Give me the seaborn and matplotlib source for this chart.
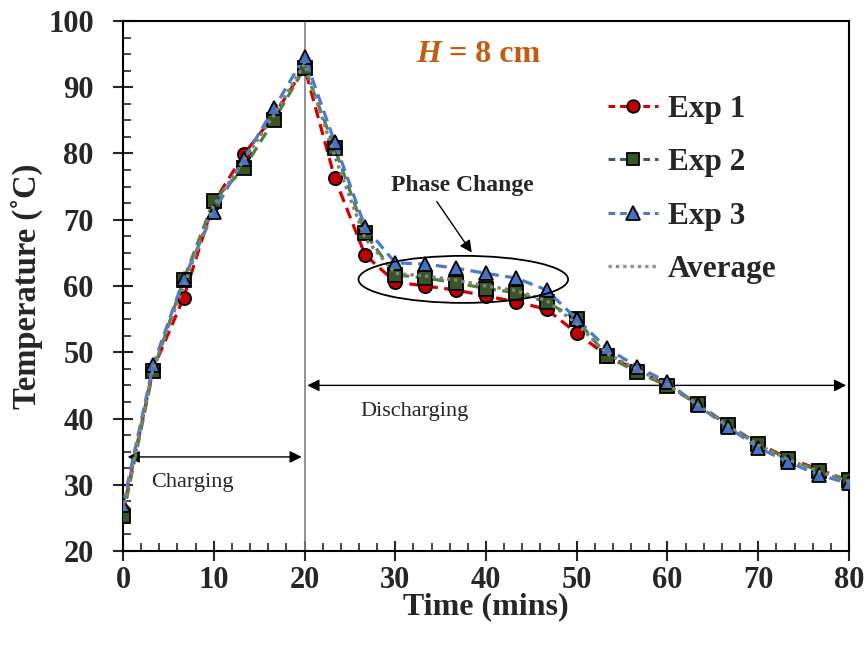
import matplotlib
matplotlib.use('Agg')
import matplotlib.pyplot as plt
import numpy as np
import pandas as pd
import seaborn as sns
from matplotlib.lines import Line2D
from matplotlib.patches import Ellipse
from matplotlib.ticker import MultipleLocator

## Data
time = [0, 3.33, 6.67, 10, 13.33, 16.67, 20, 23.33, 26.67, 30, 33.33, 36.67, 40,
        43.33, 46.67, 50, 53.33, 56.67, 60, 63.33, 66.67, 70, 73.33, 76.67, 80]
exp1 = [26.0, 47.5, 58.2, 72.6, 79.9, 85.8, 93.0, 76.3, 64.7, 60.6, 60.0, 59.4, 58.5,
        57.6, 56.5, 52.9, 49.5, 47.3, 45.0, 42.2, 39.0, 36.2, 34.0, 32.3, 30.6]
exp2 = [25.3, 47.2, 60.9, 72.9, 77.8, 85.1, 92.9, 80.8, 68.0, 61.7, 61.2, 60.5, 59.6,
        59.0, 57.6, 55.0, 49.4, 47.0, 44.9, 42.2, 39.0, 36.1, 33.9, 32.1, 30.7]
exp3 = [27.0, 48.1, 61.0, 71.2, 79.2, 86.9, 94.6, 81.7, 68.9, 63.5, 63.3, 62.7, 61.9,
        61.2, 59.4, 55.0, 50.6, 47.8, 45.5, 42.0, 38.7, 35.6, 33.4, 31.5, 30.2]
average = [26.1, 47.6, 60.0, 72.2, 79.0, 85.9, 93.5, 79.6, 67.2, 61.9, 61.5, 60.9, 60.0,
           59.3, 57.8, 54.3, 49.8, 47.4, 45.1, 42.1, 38.9, 36.0, 33.8, 32.0, 30.5]

df = pd.DataFrame({'time': time, 'Exp 1': exp1, 'Exp 2': exp2, 'Exp 3': exp3, 'Average': average})

sns.set_style('ticks')
plt.rcParams['font.family'] = ['Liberation Serif', 'DejaVu Serif']

fig = plt.figure(figsize=(8.67, 6.5), dpi=100)
ax = fig.add_axes([0.1419, 0.1523, 0.8373, 0.8154])

dash = (0, (3.5, 2))
sns.lineplot(data=df, x='time', y='Exp 1', ax=ax, color='#D40000', linestyle=dash, lw=2.3,
             marker='o', markersize=9.5, markerfacecolor='#C00000', markeredgecolor='black',
             markeredgewidth=1.3, zorder=3)
sns.lineplot(data=df, x='time', y='Exp 2', ax=ax, color='#538135', linestyle=dash, lw=2.3,
             marker='s', markersize=9.5, markerfacecolor='#375623', markeredgecolor='black',
             markeredgewidth=1.3, zorder=4)
sns.lineplot(data=df, x='time', y='Exp 3', ax=ax, color='#4A7BD0', linestyle=dash, lw=2.3,
             marker='^', markersize=10, markerfacecolor='#4472C4', markeredgecolor='black',
             markeredgewidth=1.3, zorder=5)
sns.lineplot(data=df, x='time', y='Average', ax=ax, color='#808080', linestyle=(0, (1, 1.2)),
             lw=2.4, zorder=6)

ax.set_xlim(0, 80)
ax.set_ylim(20, 100)
ax.xaxis.set_major_locator(MultipleLocator(10))
ax.xaxis.set_minor_locator(MultipleLocator(2))
ax.yaxis.set_major_locator(MultipleLocator(10))
ax.yaxis.set_minor_locator(MultipleLocator(2.5))
ax.tick_params(which='major', direction='inout', length=14, width=1.5, labelsize=22)
ax.tick_params(axis='x', which='major', pad=4)
ax.tick_params(axis='y', which='major', pad=14)
ax.tick_params(which='minor', direction='in', length=6, width=1.2)
ax.tick_params(top=False, right=False, which='both')
for lab in ax.get_xticklabels() + ax.get_yticklabels():
    lab.set_fontweight('bold')
for s in ax.spines.values():
    s.set_color('black')
    s.set_linewidth(1.5)

ax.set_xlabel('Time (mins)', fontsize=23, fontweight='bold', labelpad=-2)
ax.set_ylabel('Temperature (˚C)', fontsize=23.5, fontweight='bold', labelpad=4)

# charging / discharging markers
ax.axvline(20, color='#808080', lw=1.2, zorder=1)
ax.annotate('', xy=(0.2, 34.2), xytext=(20, 34.2),
            arrowprops=dict(arrowstyle='<|-|>', color='black', lw=1, mutation_scale=18))
ax.text(7.6, 30.3, 'Charging', fontsize=16, ha='center', va='center')
ax.annotate('', xy=(20, 45.0), xytext=(80, 45.0),
            arrowprops=dict(arrowstyle='<|-|>', color='black', lw=1, mutation_scale=18))
ax.text(32.1, 41.0, 'Discharging', fontsize=16, ha='center', va='center')

# phase change highlight
ax.add_patch(Ellipse((37.5, 61.0), 23.1, 7.1, fill=False, edgecolor='black', lw=1.3, zorder=7))
ax.text(37.4, 75.1, 'Phase Change', fontsize=17, fontweight='bold', ha='center', va='center')
ax.annotate('', xy=(38.6, 64.7), xytext=(34.4, 73.1),
            arrowprops=dict(arrowstyle='-|>', color='black', lw=1, mutation_scale=18))

ax.text(35.0, 94.9, 'H', fontsize=23, fontweight='bold', fontstyle='italic',
        color='#C55A11', ha='right', va='center')
ax.text(35.0, 94.9, ' = 8 cm', fontsize=23, fontweight='bold',
        color='#C55A11', ha='left', va='center')

handles = [
    Line2D([], [], color='#D40000', linestyle=(0, (2.2, 1.6)), lw=2.2, marker='o', markersize=9,
           markerfacecolor='#C00000', markeredgecolor='black', markeredgewidth=1.3),
    Line2D([], [], color='#44546A', linestyle=(0, (2.2, 1.6)), lw=2.2, marker='s', markersize=9,
           markerfacecolor='#375623', markeredgecolor='black', markeredgewidth=1.3),
    Line2D([], [], color='#4A7BD0', linestyle=(0, (2.2, 1.6)), lw=2.2, marker='^', markersize=9.5,
           markerfacecolor='#4472C4', markeredgecolor='black', markeredgewidth=1.3),
    Line2D([], [], color='#909090', linestyle=(0, (1, 1.2)), lw=2.4),
]
ax.legend(handles, ['Exp 1', 'Exp 2', 'Exp 3', 'Average'], loc='upper left',
          bbox_to_anchor=(0.647, 0.89), frameon=False, borderpad=0, handlelength=1.6,
          handletextpad=0.3, labelspacing=0.78, prop=dict(size=22.5, weight='bold'))

fig.savefig('out.png', dpi=100)
